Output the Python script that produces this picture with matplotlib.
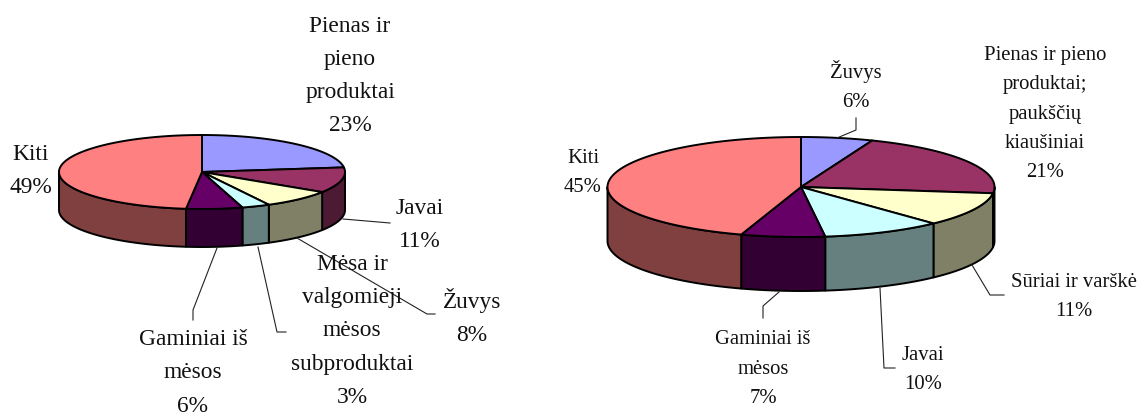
import numpy as np
import matplotlib
matplotlib.use("Agg")
import matplotlib.pyplot as plt
from matplotlib.patches import Polygon

plt.rcParams['font.family'] = ['Liberation Serif', 'DejaVu Serif']

left_labels = ["Pienas ir\npieno\nproduktai", "Javai", "Žuvys",
               "Mėsa ir\nvalgomieji\nmėsos\nsubproduktai",
               "Gaminiai iš\nmėsos", "Kiti"]
left_values = [23.2, 11.2, 8.2, 3.2, 6.4, 48.6]

right_labels = ["Žuvys", "Pienas ir pieno\nproduktai;\npaukščių\nkiaušiniai",
                "Sūriai ir varškė", "Javai", "Gaminiai iš\nmėsos", "Kiti"]
right_values = [6, 21, 11, 10, 7, 45]

colors = ["#9999FF", "#993366", "#FFFFCC", "#CCFFFF", "#660066", "#FF8080"]
wall_colors = ["#4D4D80", "#4D1A33", "#808066", "#668080", "#330033", "#804040"]

# label centres in picture pixels
left_pos = [(350, 76), (420, 225), (472, 317), (352, 331), (193, 373), (31, 171)]
right_pos = [(856, 86), (1045, 114), (1074, 297), (923, 370), (763, 369), (583, 173)]

left_leaders = [
    [(343, 219), (390, 223)],
    [(297, 238), (427, 314), (435, 314)],
    [(258, 247), (277, 332), (286, 332)],
    [(217, 248), (193, 310), (193, 320)],
]
right_leaders = [
    [(837, 138), (856, 130), (856, 118)],
    [(972, 265), (990, 295), (1004, 295)],
    [(880, 288), (884, 368), (895, 368)],
    [(779, 292), (763, 306), (763, 318)],
]


def draw_pie(ax, values, cx, cy, rx, ry, depth):
    fr = np.cumsum([0] + values) / sum(values) * 2 * np.pi
    # walls first, only the part facing the viewer
    for i in range(len(values)):
        a = max(fr[i], np.pi / 2)
        b = min(fr[i + 1], 3 * np.pi / 2)
        if b <= a:
            continue
        t = np.linspace(a, b, 80)
        x = cx + rx * np.sin(t)
        y = cy - ry * np.cos(t)
        pts = np.r_[np.c_[x, y], np.c_[x, y + depth][::-1]]
        ax.add_patch(Polygon(pts, fc=wall_colors[i], ec="k", lw=1.4, joinstyle="round"))
    for i in range(len(values)):
        t = np.linspace(fr[i], fr[i + 1], 120)
        pts = np.c_[cx + rx * np.sin(t), cy - ry * np.cos(t)]
        pts = np.r_[[(cx, cy)], pts]
        ax.add_patch(Polygon(pts, fc=colors[i], ec="k", lw=1.4, joinstyle="round"))


def draw_text(ax, labels, values, pos, size, spacing):
    for lab, v, (x, y) in zip(labels, values, pos):
        ax.text(x, y, f"{lab}\n{round(v)}%", ha="center", va="center",
                fontsize=size, linespacing=spacing, color="#111111", zorder=5)


fig = plt.figure(figsize=(11.43, 4.17), dpi=100)
ax = fig.add_axes([0, 0, 1, 1])
ax.set_xlim(0, 1143)
ax.set_ylim(417, 0)
ax.axis("off")

draw_pie(ax, left_values, 202, 172, 143, 37, 38)
draw_pie(ax, right_values, 801, 187, 193.5, 50, 54)

for line in left_leaders + right_leaders:
    xs, ys = zip(*line)
    ax.plot(xs, ys, color="#222222", lw=0.8, zorder=4)

draw_text(ax, left_labels, left_values, left_pos, 16.8, 1.76)
draw_text(ax, right_labels, right_values, right_pos, 14.9, 1.74)

fig.savefig("out.png", dpi=100)
